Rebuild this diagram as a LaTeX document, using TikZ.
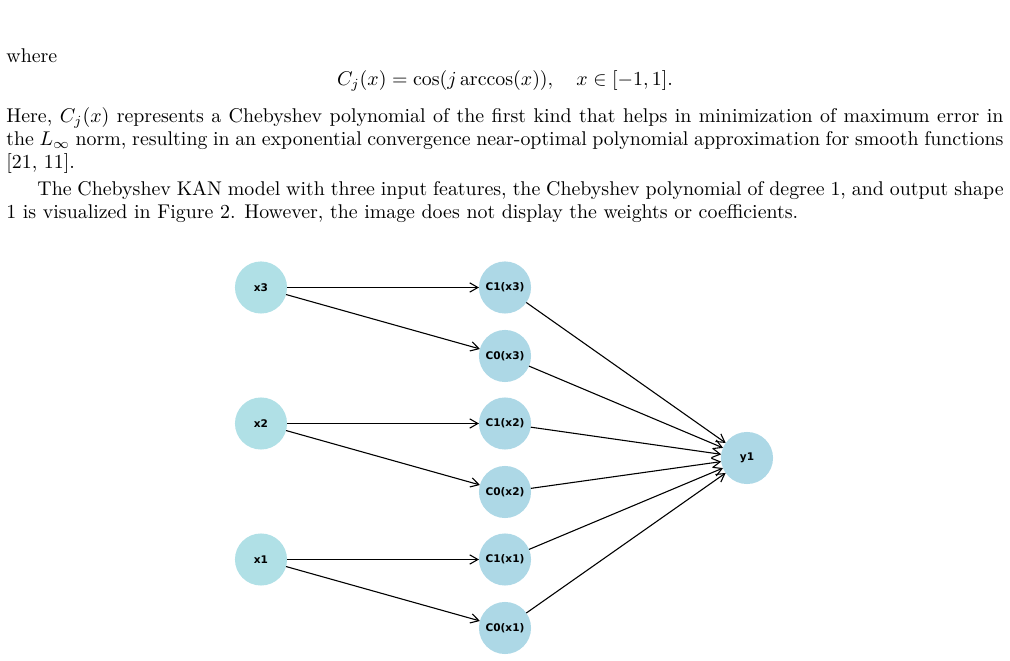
\documentclass[tikz,border=0pt]{standalone}
\usepackage{amsmath, amssymb}
\usepackage{fontspec}
\newfontfamily\netfont{DejaVu Sans}
\usepackage{xcolor}
\usepackage{tikz}
\usetikzlibrary{arrows.meta}
\usetikzlibrary{positioning}
\definecolor{inblue}{HTML}{B0E0E6}
\definecolor{nodeblue}{HTML}{ADD8E6}

\begin{document}
\begin{tikzpicture}[x=0.503pt, y=-0.503pt,
    neuron/.style={circle, fill=nodeblue, minimum size=26.2pt, inner sep=0pt, outer sep=0pt,
        font=\netfont\bfseries\fontsize{5.3}{6}\selectfont},
    edge/.style={-{Straight Barb[length=4.1pt,width=4.7pt]}, line width=0.55pt},
    line/.style={anchor=base west, inner sep=0pt}]
        \useasboundingbox (0,0) rectangle (1010,661);
        % text above the figure
        \node[line] (where) at (6,63) {where};
        \node[anchor=base, inner sep=0pt] (eq) at (505,86) {$\displaystyle C_j(x) = \cos(j\arccos(x)), \quad x \in [-1,1].$};
        \node[line] (l1) at (6,123) {\makebox[501.5pt][s]{Here, $C_j(x)$ represents a Chebyshev polynomial of the first kind that helps in minimization of maximum error in}};
        \node[line] (l2) at (6,146) {\makebox[501.5pt][s]{the $L_\infty$ norm, resulting in an exponential convergence near-optimal polynomial approximation for smooth functions}};
        \node[line] (l3) at (6,169) {[21, 11].};
        \node[line] (l4) at (37,196) {\makebox[486pt][s]{The Chebyshev KAN model with three input features, the Chebyshev polynomial of degree 1, and output shape}};
        \node[line] (l5) at (6,219) {1 is visualized in Figure 2. However, the image does not display the weights or coefficients.};

        % input layer
        \node[neuron, fill=inblue] (x3) at (261,287.5) {x3};
        \node[neuron, fill=inblue] (x2) at (261,423.5) {x2};
        \node[neuron, fill=inblue] (x1) at (261,559.5) {x1};
        % chebyshev terms
        \node[neuron] (c1x3) at (505,287.5) {C1(x3)};
        \node[neuron] (c0x3) at (505,356) {C0(x3)};
        \node[neuron] (c1x2) at (505,423.5) {C1(x2)};
        \node[neuron] (c0x2) at (505,492) {C0(x2)};
        \node[neuron] (c1x1) at (505,559.5) {C1(x1)};
        \node[neuron] (c0x1) at (505,628) {C0(x1)};
        % output
        \node[neuron] (y1) at (747,458) {y1};

        \draw[edge] (x3) -- (c1x3);
        \draw[edge] (x3) -- (c0x3);
        \draw[edge] (x2) -- (c1x2);
        \draw[edge] (x2) -- (c0x2);
        \draw[edge] (x1) -- (c1x1);
        \draw[edge] (x1) -- (c0x1);
        \foreach \c in {c1x3,c0x3,c1x2,c0x2,c1x1,c0x1}
            \draw[edge] (\c) -- (y1);
    \end{tikzpicture}
\end{document}
